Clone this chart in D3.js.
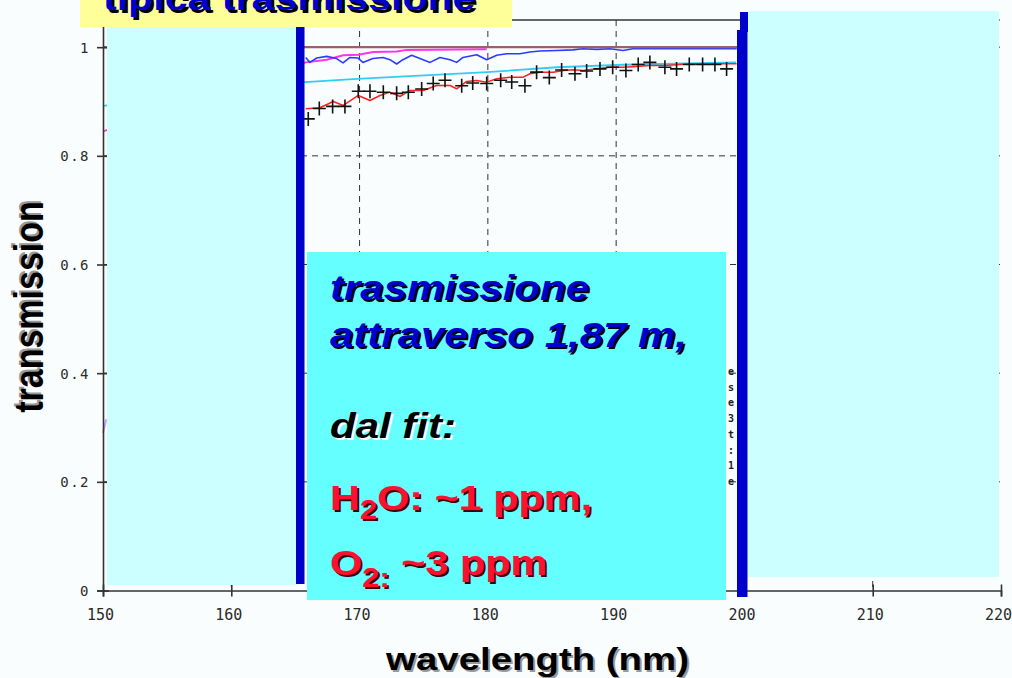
<!DOCTYPE html>
<html><head><meta charset="utf-8">
<script src="https://cdn.jsdelivr.net/npm/d3@7/dist/d3.min.js"></script>
<style>
html,body{margin:0;padding:0;background:#fafdfd;}
svg{display:block;}
</style></head><body>
<svg id="c" width="1012" height="678"></svg>
<script>
// ---------- data ----------
const xTicks = [150,160,170,180,190,200,210,220];
const xTickLabels = ["150","160","170","180","190","200","210","220"];
const yTicks = [0,0.2,0.4,0.6,0.8,1];
const yTickLabels = ["0","0.2","0.4","0.6","0.8","1"];
const gridX = [160,170,180,190,200,210];
const gridY = [0.2,0.4,0.6,0.8,1];

const unityWl = [150, 199.5];
const unityT  = [1.0, 1.0];

const magentaWl = [150, 165.8, 167.44, 168.73, 169.9, 171.07, 172.89, 173.67, 179.91];
const magentaT  = [0.845, 0.972, 0.977, 0.985, 0.986, 0.991, 0.992, 0.995, 0.996];

const cyanWl = [150, 165.74, 169.8, 179.93, 185.39, 190.53, 199.34];
const cyanT  = [0.892, 0.9356, 0.9418, 0.954, 0.963, 0.9676, 0.9718];

const lavenderWl = [150, 150.25];
const lavenderT  = [0.29, 0.315];

const blueWl = [165.8,166.13,166.66,167.44,168.21,168.71,169.25,169.88,170.26,171.04,171.82,172.37,172.89,173.38,174.06,174.71,175.49,176.27,177.05,177.57,178.06,179.13,179.91,180.69,181.47,182.5,183.28,184.06,185.36,186.63,187.41,188.48,189.52,190.53,191.31,193.16,199.4];
const blueT  = [0.981,0.972,0.980,0.983,0.979,0.971,0.981,0.980,0.972,0.979,0.981,0.977,0.969,0.977,0.985,0.979,0.972,0.981,0.977,0.972,0.981,0.986,0.977,0.985,0.988,0.988,0.991,0.993,0.994,0.995,0.997,0.996,0.997,0.994,0.997,0.997,0.997];

const redWl = [165.8,166.91,167.95,168.73,169.9,170.81,171.59,172.37,173.15,173.93,174.96,176.01,177.05,177.57,178.35,179.13,179.91,180.69,181.72,182.76,183.28,184.06,185.1,185.88,186.66,187.44,188.48,189.52,190.55,191.6,192.63,193.67,194.71,195.75,197.05,199.39];
const redT  = [0.8866,0.8884,0.900,0.8927,0.9111,0.9019,0.9111,0.9172,0.9092,0.9203,0.9203,0.9295,0.9295,0.9234,0.9369,0.9387,0.9356,0.9418,0.9448,0.9448,0.951,0.954,0.954,0.9571,0.9583,0.9571,0.9602,0.9632,0.9632,0.9645,0.9663,0.9663,0.9676,0.9694,0.9694,0.9694];

const measWl = [166.0,166.86,167.9,168.86,169.9,170.81,171.85,172.89,173.8,174.84,175.74,176.66,177.96,178.82,179.91,181.0,181.86,182.89,183.8,184.79,185.75,186.79,187.7,188.74,189.73,190.76,191.72,192.63,193.8,194.71,195.7,196.74,197.7,198.61];
const measT  = [0.868,0.887,0.891,0.891,0.919,0.919,0.917,0.915,0.917,0.923,0.933,0.939,0.929,0.934,0.933,0.939,0.936,0.929,0.954,0.944,0.958,0.951,0.956,0.960,0.963,0.957,0.968,0.972,0.963,0.960,0.968,0.968,0.968,0.960];

const legendChars = ["e","s","e","3","t",":","1","e"];

const titleText = "tipica trasmissione";
const xTitle = "wavelength (nm)";
const yTitle = "transmission";

// ---------- drawing ----------
const svg = d3.select("#c");
const FONT = "'Liberation Sans', Arial, Helvetica, sans-serif";
const MONO = "'DejaVu Sans Mono', monospace";

const x = d3.scaleLinear().domain([150,220]).range([103,1001]);
const y = d3.scaleLinear().domain([0,1.05]).range([590.5,20]);

svg.append("rect").attr("width",1012).attr("height",678).attr("fill","#fafdfd");

// grid
const grid = svg.append("g").attr("stroke","#333").attr("stroke-width",1).attr("stroke-dasharray","6,5");
grid.selectAll("line.gx").data(gridX).join("line")
  .attr("x1",d=>x(d)).attr("x2",d=>x(d)).attr("y1",y(1.05)).attr("y2",y(0));
grid.selectAll("line.gy").data(gridY).join("line")
  .attr("x1",x(150)).attr("x2",x(220)).attr("y1",d=>y(d)).attr("y2",d=>y(d));

// top frame
svg.append("line").attr("x1",x(150)).attr("x2",x(219.9)).attr("y1",y(1.05)).attr("y2",y(1.05))
  .attr("stroke","#333").attr("stroke-width",1.5);

// series
const line = d3.line().x(d=>x(d[0])).y(d=>y(d[1]));
const zip = (a,b)=>a.map((v,i)=>[v,b[i]]);
function drawSeries(wl,t,color,w){
  svg.append("path").datum(zip(wl,t)).attr("d",line)
    .attr("fill","none").attr("stroke",color).attr("stroke-width",w).attr("stroke-linejoin","round");
}
drawSeries(lavenderWl, lavenderT, "#c8a0ff", 2);
drawSeries(magentaWl, magentaT, "#ff33ee", 2);
drawSeries(cyanWl, cyanT, "#33ccf5", 1.8);
drawSeries(blueWl, blueT, "#2a3cff", 1.6);
drawSeries(unityWl, unityT, "#9c5f6c", 2.2);
drawSeries(redWl, redT, "#ff2020", 1.5);

svg.append("g").selectAll("path").data(zip(measWl,measT)).join("path")
  .attr("transform",d=>`translate(${x(d[0])},${y(d[1])})`)
  .attr("d","M-6.5,0H6.5M0,-7V7").attr("stroke","#111").attr("stroke-width",1.6).attr("fill","none");

// clipped legend remnants
svg.append("g").selectAll("text").data(legendChars).join("text")
  .attr("x",728).attr("y",(d,i)=>375+i*15.7).text(d=>d)
  .attr("font-family",MONO).attr("font-size",10).attr("font-weight","bold").attr("fill","#222");

// axes
const xAxis = svg.append("g").attr("transform",`translate(0,${y(0)})`)
  .call(d3.axisBottom(x).tickValues(xTicks).tickFormat((d,i)=>xTickLabels[i]).tickSizeOuter(0).tickSize(6));
const yAxis = svg.append("g").attr("transform",`translate(${x(150)},0)`)
  .call(d3.axisLeft(y).tickValues(yTicks).tickFormat((d,i)=>yTickLabels[i]).tickSizeOuter(0).tickSize(6));
[xAxis,yAxis].forEach(g=>{
  g.select(".domain").attr("stroke","#333").attr("stroke-width",1.6);
  g.selectAll(".tick line").attr("stroke","#333").attr("stroke-width",1.6);
  g.selectAll(".tick text").attr("font-family",MONO).attr("fill","#2a2a2a");
});
xAxis.selectAll(".tick line").attr("y1",-6).attr("y2",6);
xAxis.selectAll(".tick text").attr("font-size",15).attr("x",-3).attr("y",19).attr("dy","0.71em");
yAxis.selectAll(".tick line").attr("x1",-6).attr("x2",6);
yAxis.selectAll(".tick text").attr("font-size",14).attr("letter-spacing","1.5px").attr("x",-13).attr("dy","0.36em");

// overlays
svg.append("rect").attr("x",107).attr("y",20).attr("width",190).attr("height",565).attr("fill","#ccffff");
svg.append("rect").attr("x",748).attr("y",11).attr("width",251).attr("height",566).attr("fill","#ccffff");
svg.append("rect").attr("x",296).attr("y",27).attr("width",8.5).attr("height",557).attr("fill","#0000cc");
svg.append("rect").attr("x",740).attr("y",12).attr("width",8).attr("height",20).attr("fill","#0000cc");
svg.append("rect").attr("x",737).attr("y",30).attr("width",10.5).attr("height",567).attr("fill","#0000cc");

// yellow title box
svg.append("rect").attr("x",80).attr("y",-5).attr("width",432).attr("height",32).attr("fill","#ffff99");

function shadowText(px,py,sx,parts,size,opts){
  const g = svg.append("g").attr("transform",`translate(${px},${py}) scale(${sx},1)${opts.rotate?" rotate(-90)":""}`);
  const mk = (dx,dy,fill)=>{
    const t = g.append("text").attr("x",dx).attr("y",dy)
      .attr("font-family",FONT).attr("font-weight","bold").attr("font-size",size)
      .attr("font-style",opts.italic?"italic":"normal").attr("fill",fill)
      .attr("text-anchor",opts.anchor||"start");
    parts.forEach(p=>{
      const ts = t.append("tspan").text(p.t);
      if(p.size) ts.attr("font-size",p.size);
      if(p.dy) ts.attr("dy",p.dy);
    });
  };
  const o = opts.off||2;
  mk(opts.rotate? o : o/sx, opts.rotate? -o : o, opts.shadow);
  mk(0,0,opts.fill);
}

shadowText(103,10,1.21,[{t:titleText}],34,{fill:"#0000cc",shadow:"#000",off:2.5});

// big cyan box
svg.append("rect").attr("x",307).attr("y",252).attr("width",419).attr("height",348).attr("fill","#66ffff");
shadowText(330,300,1.2,[{t:"trasmissione"}],35,{italic:true,fill:"#0000cc",shadow:"#000"});
shadowText(330,347,1.2,[{t:"attraverso 1,87 m,"}],35,{italic:true,fill:"#0000cc",shadow:"#000"});
shadowText(330,438,1.2,[{t:"dal fit:"}],35,{italic:true,fill:"#000",shadow:"#ffffff"});
shadowText(330,510,1.15,[{t:"H"},{t:"2",size:27,dy:9},{t:"O: ~1 ppm,",size:36,dy:-9}],36,{fill:"#ff1030",shadow:"#3a0008"});
shadowText(330,575,1.15,[{t:"O"},{t:"2:",size:27,dy:12},{t:" ~3 ppm",size:36,dy:-12}],36,{fill:"#ff1030",shadow:"#3a0008"});

// axis titles
shadowText(537.5,670,1.2,[{t:xTitle}],32,{fill:"#000",shadow:"#999",anchor:"middle"});
shadowText(43,307,1.2,[{t:yTitle}],34,{fill:"#000",shadow:"#999",anchor:"middle",rotate:true});
</script>
</body></html>
